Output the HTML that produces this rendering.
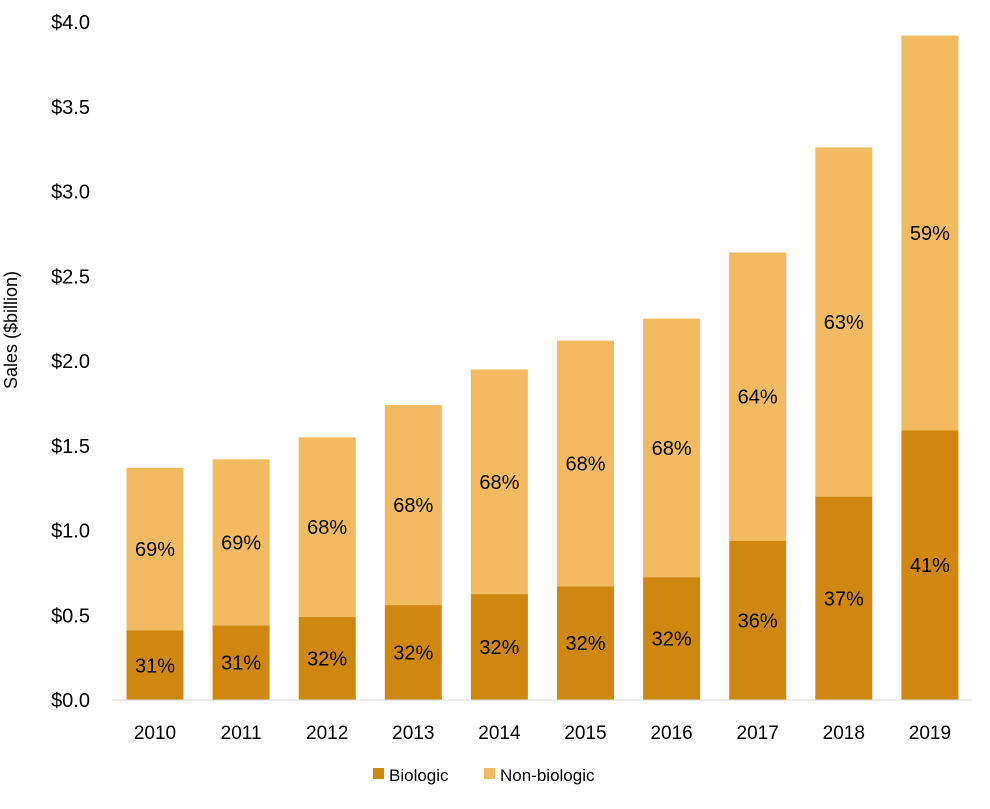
<!DOCTYPE html>
<html><head><meta charset="utf-8"><style>
body{margin:0;background:#fff}
svg text{font-family:"Liberation Sans",sans-serif}
</style></head><body>
<svg id="chart" width="990" height="804">
<text x="17" y="330" font-size="18" text-anchor="middle" transform="rotate(-90 17 330)">Sales ($billion)</text>
<g id="yticks"></g><g id="bars"></g><g id="xticks"></g>
<line x1="112" y1="700" x2="972" y2="700" stroke="#d9d9d9" stroke-width="1"/>
<g>
<rect x="373" y="768" width="11" height="11" fill="#D0870F"/>
<text x="389" y="781" font-size="17">Biologic</text>
<rect x="484" y="768" width="11" height="11" fill="#F2BB62"/>
<text x="500" y="781" font-size="17">Non-biologic</text>
</g>
</svg>
<script>
const years=['2010','2011','2012','2013','2014','2015','2016','2017','2018','2019'];
const biologic=[0.41,0.44,0.49,0.56,0.625,0.67,0.725,0.94,1.20,1.59];
const total=[1.37,1.42,1.55,1.74,1.95,2.12,2.25,2.64,3.26,3.92];
const bioPct=['31%','31%','32%','32%','32%','32%','32%','36%','37%','41%'];
const nonPct=['69%','69%','68%','68%','68%','68%','68%','64%','63%','59%'];
const yTicks=[0,0.5,1,1.5,2,2.5,3,3.5,4];
const NS='http://www.w3.org/2000/svg';
const y=v=>700-v*169.5;
const xc=i=>155+i*86.1;
const bw=57;
function mk(t,a,p){const e=document.createElementNS(NS,t);for(const k in a)e.setAttribute(k,a[k]);p.appendChild(e);return e;}
const yt=document.getElementById('yticks');
yTicks.forEach(v=>{const t=mk('text',{x:90,y:y(v)+7,'font-size':20,'text-anchor':'end'},yt);t.textContent='$'+v.toFixed(1);

});
const bg=document.getElementById('bars'),xt=document.getElementById('xticks');
years.forEach((yr,i)=>{
const r1=mk('rect',{x:xc(i)-bw/2,y:y(biologic[i]),width:bw,height:y(0)-y(biologic[i]),fill:'#D0870F'},bg);


const r2=mk('rect',{x:xc(i)-bw/2,y:y(total[i]),width:bw,height:y(biologic[i])-y(total[i]),fill:'#F2BB62'},bg);


const t1=mk('text',{x:xc(i),y:(y(0)+y(biologic[i]))/2+7,'font-size':20,'text-anchor':'middle'},bg);t1.textContent=bioPct[i];


const t2=mk('text',{x:xc(i),y:(y(biologic[i])+y(total[i]))/2+7,'font-size':20,'text-anchor':'middle'},bg);t2.textContent=nonPct[i];


const tx=mk('text',{x:xc(i),y:739,'font-size':19,'text-anchor':'middle'},xt);tx.textContent=yr;


});
</script>
</body></html>
